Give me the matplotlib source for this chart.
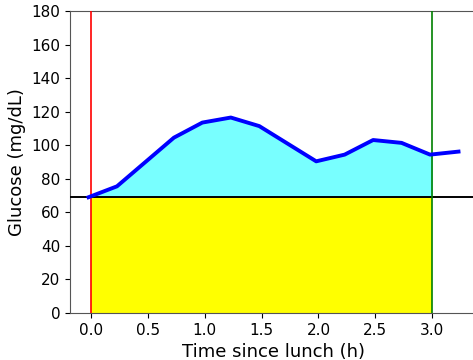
import matplotlib
matplotlib.use("Agg")
import matplotlib.pyplot as plt
from matplotlib.patches import Rectangle
import numpy as np

time_h = np.array([-0.02, 0.23, 0.73, 0.98, 1.23, 1.48, 1.98, 2.23, 2.48, 2.73, 2.98, 3.23])
glucose = np.array([69, 75.5, 104.5, 113.5, 116.5, 111.4, 90.4, 94.4, 103.1, 101.4, 94.4, 96.2])
threshold = 69
t_start, t_end = 0.0, 3.0

fig = plt.figure(figsize=(4.73, 3.6), dpi=100)
ax = fig.add_axes([70/473, 47/360, 407/473, 302/360])

ax.plot(time_h, glucose, color="blue", lw=2.8, zorder=4)
poly = ax.fill_between(time_h, glucose, threshold, color=(0.47, 1.0, 1.0), lw=0, zorder=1)
clip = Rectangle((t_start, 0), t_end - t_start, 200, transform=ax.transData)
poly.set_clip_path(clip)
ax.fill_between([t_start, t_end], 0, threshold, color="yellow", lw=0, zorder=1)
ax.axhline(threshold, color="black", lw=1.4, zorder=3)
ax.axvline(t_start, color="red", lw=1.2, zorder=3)
ax.axvline(t_end, color="green", lw=1.2, zorder=3)

ax.set_ylim(0, 180)
ax.set_xlim(-0.1825, 3.3925)
ax.set_xticks([0, 0.5, 1.0, 1.5, 2.0, 2.5, 3.0])
ax.tick_params(labelsize=11)
ax.set_xlabel("Time since lunch (h)", fontsize=13)
ax.set_ylabel("Glucose (mg/dL)", fontsize=13)
for s in ax.spines.values():
    s.set_color("#555555")

fig.savefig("out.png", dpi=100)
